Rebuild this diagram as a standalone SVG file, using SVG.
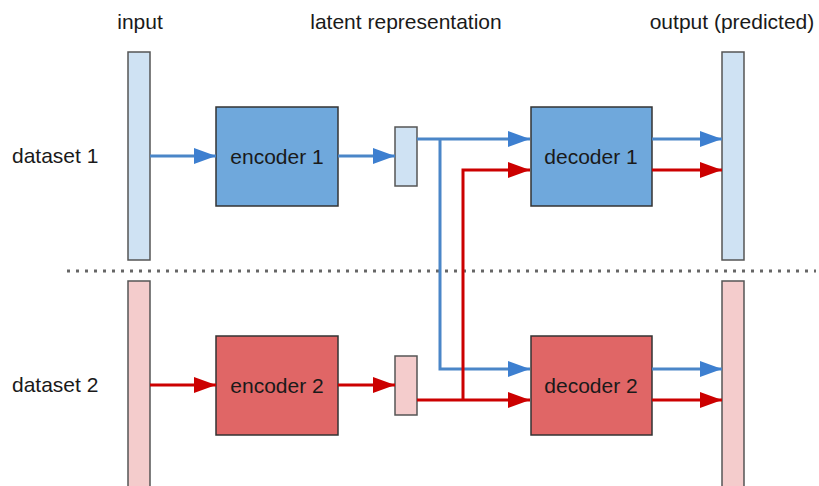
<svg xmlns="http://www.w3.org/2000/svg" width="819" height="486" viewBox="0 0 819 486">
<defs>
<marker id="ab" markerUnits="userSpaceOnUse" markerWidth="22" markerHeight="18" refX="22" refY="9" orient="auto"><path d="M0,1 L22,9 L0,17 Z" fill="#3d7fd0"/></marker>
<marker id="ar" markerUnits="userSpaceOnUse" markerWidth="22" markerHeight="18" refX="22" refY="9" orient="auto"><path d="M0,1 L22,9 L0,17 Z" fill="#cc0000"/></marker>
</defs>
<style>
text{font-family:"Liberation Sans",Arial,sans-serif;font-size:21px;fill:#1a1a1a}
.box{stroke:#333;stroke-width:1.5}
.bar{stroke:#555;stroke-width:1.5}
.lb{fill:#cfe2f3}.lr{fill:#f4cccc}.db{fill:#6fa8dc}.dr{fill:#e06666}
.cb{stroke:#4a86c8;stroke-width:3;fill:none;marker-end:url(#ab)}
.cr{stroke:#cc0000;stroke-width:3;fill:none;marker-end:url(#ar)}
.m{text-anchor:middle}
</style>
<rect width="819" height="486" fill="#fff"/>
<g id="labels">
<text x="140" y="29" class="m">input</text>
<text x="406" y="29" class="m">latent representation</text>
<text x="732" y="29" class="m">output (predicted)</text>
<text x="12" y="163">dataset 1</text>
<text x="12" y="392">dataset 2</text>
</g>
<line x1="67" y1="271" x2="816" y2="271" stroke="#666" stroke-width="3" stroke-dasharray="3 6"/>
<g id="input1"><rect class="bar lb" x="128" y="52" width="22" height="208"/></g>
<g id="input2"><rect class="bar lr" x="128" y="281" width="22" height="215"/></g>
<g id="encoder1"><rect class="box db" x="216" y="107" width="122" height="99"/><text x="277" y="164" class="m">encoder 1</text></g>
<g id="encoder2"><rect class="box dr" x="216" y="336" width="122" height="99"/><text x="277" y="393" class="m">encoder 2</text></g>
<g id="latent1"><rect class="bar lb" x="395" y="127" width="22" height="59"/></g>
<g id="latent2"><rect class="bar lr" x="395" y="356" width="22" height="59"/></g>
<g id="decoder1"><rect class="box db" x="531" y="107" width="121" height="99"/><text x="591" y="164" class="m">decoder 1</text></g>
<g id="decoder2"><rect class="box dr" x="531" y="336" width="121" height="99"/><text x="591" y="393" class="m">decoder 2</text></g>
<g id="output1"><rect class="bar lb" x="722" y="52" width="22" height="208"/></g>
<g id="output2"><rect class="bar lr" x="722" y="281" width="22" height="215"/></g>
<g id="connectors">
<line class="cb" x1="150" y1="156" x2="216" y2="156"/>
<line class="cb" x1="338" y1="156" x2="395" y2="156"/>
<line class="cb" x1="417" y1="139" x2="530" y2="139"/>
<path class="cb" d="M440,139 V369 H530"/>
<path class="cr" d="M463,400 V170 H530"/>
<line class="cr" x1="417" y1="400" x2="530" y2="400"/>
<line class="cr" x1="338" y1="385" x2="395" y2="385"/>
<line class="cr" x1="150" y1="385" x2="216" y2="385"/>
<line class="cb" x1="652" y1="139" x2="722" y2="139"/>
<line class="cr" x1="652" y1="170" x2="722" y2="170"/>
<line class="cb" x1="652" y1="369" x2="722" y2="369"/>
<line class="cr" x1="652" y1="400" x2="722" y2="400"/>
</g>
</svg>
